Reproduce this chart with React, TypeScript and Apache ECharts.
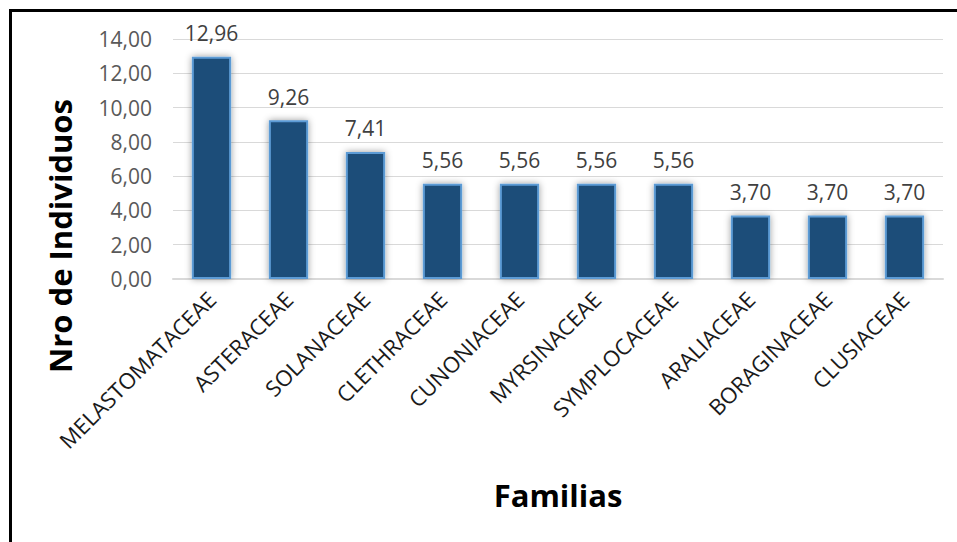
import React, { useEffect, useRef } from "react";
import * as echarts from "echarts";

const categories = [
  "MELASTOMATACEAE",
  "ASTERACEAE",
  "SOLANACEAE",
  "CLETHRACEAE",
  "CUNONIACEAE",
  "MYRSINACEAE",
  "SYMPLOCACEAE",
  "ARALIACEAE",
  "BORAGINACEAE",
  "CLUSIACEAE",
];
const values = [12.96, 9.26, 7.41, 5.56, 5.56, 5.56, 5.56, 3.7, 3.7, 3.7];
const yAxisTitle = "Nro de Individuos";
const xAxisTitle = "Familias";

const fmt = (v: number) => v.toFixed(2).replace(".", ",");

export default function App() {
  const ref = useRef<HTMLDivElement>(null);
  useEffect(() => {
    if (!ref.current) return;
    const chart = echarts.init(ref.current, null, { renderer: "svg" });
    chart.setOption({
      animation: false,
      backgroundColor: "#ffffff",
      grid: { left: 173, right: 14, top: 39, bottom: 263, containLabel: false },
      xAxis: {
        type: "category",
        data: categories,
        axisLine: { show: true, lineStyle: { color: "#d9d9d9", width: 2 } },
        axisTick: { show: false },
        axisLabel: {
          interval: 0,
          rotate: 45,
          margin: 16,
          color: "#1a1a1a",
          fontFamily: "Open Sans",
          fontSize: 22,
        },
      },
      yAxis: {
        type: "value",
        min: 0,
        max: 14,
        interval: 2,
        axisLine: { show: false },
        axisTick: { show: false },
        splitLine: { lineStyle: { color: "#d9d9d9", width: 1 } },
        axisLabel: {
          margin: 21,
          color: "#595959",
          fontFamily: "Open Sans",
          fontSize: 21,
          formatter: (v: number) => fmt(v),
        },
      },
      series: [
        {
          type: "bar",
          data: values,
          barWidth: "51%",
          itemStyle: {
            color: "#1f4e79",
            borderColor: "#5b9bd5",
            borderWidth: 2,
            shadowBlur: 7,
            shadowColor: "rgba(0,0,0,0.4)",
          },
          label: {
            show: true,
            position: "top",
            distance: 13,
            color: "#404040",
            fontFamily: "Open Sans",
            fontSize: 21,
            formatter: (p: any) => fmt(p.value),
          },
        },
      ],
      graphic: [
        {
          type: "rect",
          shape: { x: 10.5, y: 10.5, width: 2000, height: 2000 },
          style: { fill: "none", stroke: "#000000", lineWidth: 3 },
          silent: true,
        },
        {
          type: "text",
          x: 60,
          y: 236,
          rotation: Math.PI / 2,
          style: {
            text: yAxisTitle,
            fontFamily: "Open Sans",
            fontWeight: "bold",
            fontSize: 31,
            fill: "#000000",
            align: "center",
            verticalAlign: "middle",
          },
        },
        {
          type: "text",
          x: 558,
          y: 495,
          style: {
            text: xAxisTitle,
            fontFamily: "Open Sans",
            fontWeight: "bold",
            fontSize: 31,
            fill: "#000000",
            align: "center",
            verticalAlign: "middle",
          },
        },
      ],
    });
    return () => chart.dispose();
  }, []);
  return (
    <div
      ref={ref}
      style={{ position: "fixed", left: 0, top: 0, width: 957, height: 542 }}
    />
  );
}
